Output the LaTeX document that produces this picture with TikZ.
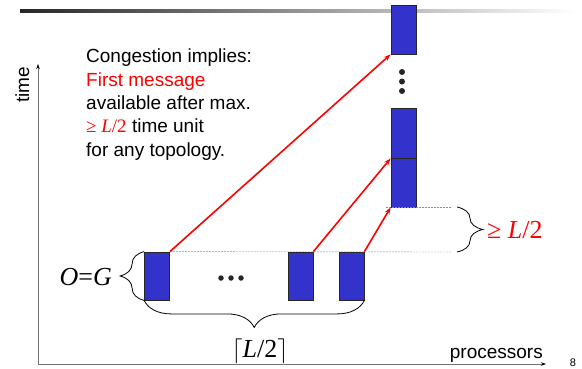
\documentclass[tikz,border=0pt]{standalone}
\usepackage{fontspec}
\setmainfont{Liberation Sans}
\newfontfamily\tms{Liberation Serif}
\usetikzlibrary{decorations.pathreplacing,arrows.meta}
\definecolor{boxblue}{HTML}{3333CC}
\begin{document}
\begin{tikzpicture}[x=1pt,y=-1pt,
  pbox/.style={draw=black!85,line width=0.8pt,fill=boxblue,inner sep=0pt,minimum width=25pt,minimum height=48pt},
  msg/.style={draw=red,line width=1.6pt,-{Stealth[length=7pt,width=5pt]}},
  guide/.style={draw=black!45,line width=0.4pt,dash pattern=on 2pt off 1pt},
  brc/.style={draw=black,line width=0.8pt,decorate,decoration={brace,amplitude=#1}},
  dot/.style={circle,fill=black!85,inner sep=0pt,minimum size=6pt},
  lbl/.style={inner sep=0pt,font=\fontsize{19}{23.3}\selectfont}]
\useasboundingbox (0,0) rectangle (582,368);
% title rule
\path[left color=black!85,right color=white] (20,9.5) rectangle (575,12.5);
% axes
\coordinate (o) at (38,364);
\coordinate (ytop) at (38,64);
\coordinate (xend) at (546,364);
\draw[black!55,line width=0.8pt,-{Stealth[length=5pt,width=3.5pt,black]}] (o) -- (ytop);
\draw[black!55,line width=0.8pt,-{Stealth[length=5pt,width=3.5pt,black]}] (o) -- (xend);
\node[lbl,rotate=90,anchor=base] (tl) at (29,85) {time};
\node[lbl,anchor=base east] (pl) at (543,358) {processors};
\node[inner sep=0pt,font=\fontsize{11}{12}\selectfont,anchor=base] (pg) at (573,366) {8};
% text block
\node[lbl,anchor=north west,align=left] (txt) at (86,49) {Congestion implies:\\
{\color{red}First message}\\
available after max.\\
{\color{red}\tms ≥ \textit{L}/2} time unit\\
for any topology.};
% processors
\node[pbox] (b1) at (157,276) {};
\node[pbox] (b2) at (300.5,276) {};
\node[pbox] (b3) at (351.5,276) {};
\node[dot,minimum size=5.5pt] (h1) at (221,278) {};
\node[dot,minimum size=5.5pt] (h2) at (231,278) {};
\node[dot,minimum size=5.5pt] (h3) at (241,278) {};
% receiver column
\node[pbox,minimum height=49pt] (t1) at (403.5,29.5) {};
\node[pbox,minimum height=50pt] (t2) at (403.5,133) {};
\node[pbox,minimum height=49pt] (t3) at (403.5,182.5) {};
\node[dot] (v1) at (402,72) {};
\node[dot] (v2) at (402,81.5) {};
\node[dot] (v3) at (402,91) {};
% guides
\coordinate (g1) at (451,252);
\coordinate (g2) at (451,207);
\draw[guide] (b1.north east) -- (g1);
\draw[guide] (386,207) -- (g2);
% messages
\draw[msg] (b1.north east) -- (t1.south west);
\draw[msg] (b2.north east) -- (t2.south west);
\draw[msg] (b3.north east) -- (t3.south west);
% braces
\draw[brc=26pt] (457,207) -- (457,252);
\node[inner sep=0pt,anchor=base west,text=red,font=\tms\fontsize{26}{28}\selectfont] (ge) at (487,238) {≥ \textit{L}/2};
\draw[brc=24pt] (b1.south west) -- (b1.north west);
\node[inner sep=0pt,anchor=base east,font=\tms\fontsize{26}{28}\selectfont] (og) at (112,285) {\textit{O}=\textit{G}};
\draw[brc=27pt] (b3.south east) -- (b1.south west);
\node[inner sep=0pt,anchor=base,font=\tms\fontsize{26}{28}\selectfont] (lc) at (260,357) {$\lceil$\textit{L}/2$\rceil$};
\end{tikzpicture}
\end{document}
